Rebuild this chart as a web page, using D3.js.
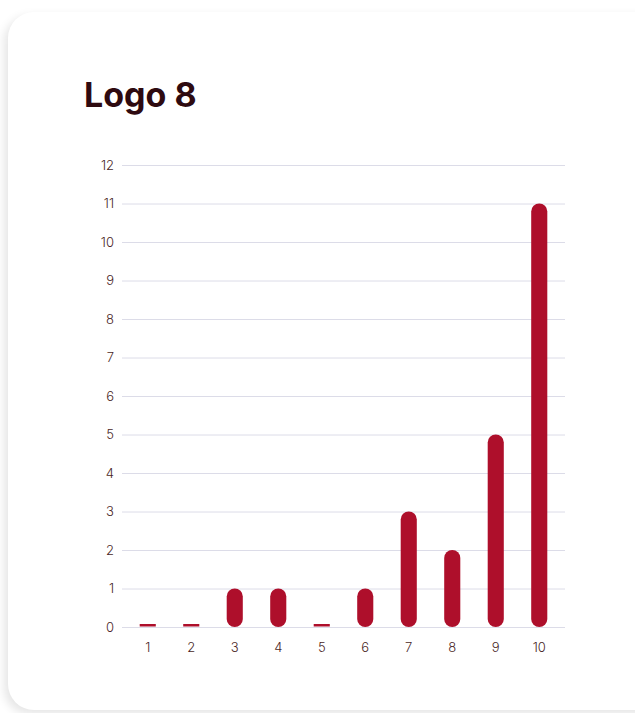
<!DOCTYPE html>
<meta charset="utf-8">
<style>
	body { margin: 0; background: #fff; font-family: Inter, "Noto Sans", sans-serif; }
	.card {
		position: absolute; left: 8px; top: 12px; width: 660px; height: 698px;
		background: #fff; border-radius: 26px;
		box-shadow: -4px 4px 10px rgba(0,0,0,0.10);
	}
</style>
<body>
	<div class="card"></div>
	<svg id="chart" width="635" height="713" style="position:absolute;left:0;top:0"></svg>
	<script src="https://d3js.org/d3.v7.min.js"></script>
	<script>
		// data
		const title = "Logo 8";
		const categories = ["1", "2", "3", "4", "5", "6", "7", "8", "9", "10"];
		const values = [0, 0, 1, 1, 0, 1, 3, 2, 5, 11];
		const yTicks = [0, 1, 2, 3, 4, 5, 6, 7, 8, 9, 10, 11, 12];

		const svg = d3.select("#chart");
		const textColor = "#4a1f26";

		svg.append("text")
			.attr("x", 84).attr("y", 107)
			.attr("font-size", 34).attr("font-weight", 700)
			.attr("fill", "#2e0a10")
			.text(title);

		let y = d3.scaleLinear().domain([0, 12]).range([627, 165]);
		let x = d3.scaleBand().domain(categories).range([126, 561]).paddingInner(0.63).paddingOuter(0.315);

		// grid + y labels
		let grid = svg.append("g");
		grid.selectAll("line").data(yTicks).enter().append("line")
			.attr("x1", 122).attr("x2", 565)
			.attr("y1", d => y(d) + 0.5).attr("y2", d => y(d) + 0.5)
			.attr("stroke", "#dcdce8").attr("stroke-width", 1);

		svg.append("g").selectAll("text").data(yTicks).enter().append("text")
			.attr("x", 114).attr("y", d => y(d))
			.attr("dy", "0.35em")
			.attr("text-anchor", "end")
			.attr("font-size", 13).attr("font-weight", 300).attr("fill", textColor)
			.text(d => d);

		// x labels
		svg.append("g").selectAll("text").data(categories).enter().append("text")
			.attr("x", d => x(d) + x.bandwidth() / 2).attr("y", 647)
			.attr("dy", "0.35em")
			.attr("text-anchor", "middle")
			.attr("font-size", 13).attr("font-weight", 300).attr("fill", textColor)
			.text(d => d);

		// bars
		const bw = x.bandwidth();
		svg.append("g").selectAll("rect").data(values).enter().append("rect")
			.attr("x", (d, i) => x(categories[i]))
			.attr("width", bw)
			.attr("y", d => d > 0 ? y(d) : y(0) - 3)
			.attr("height", d => d > 0 ? y(0) - y(d) : 2.5)
			.attr("rx", d => d > 0 ? bw / 2 : 0)
			.attr("fill", "#ae0f2b");
	</script>
</body>
</html>
